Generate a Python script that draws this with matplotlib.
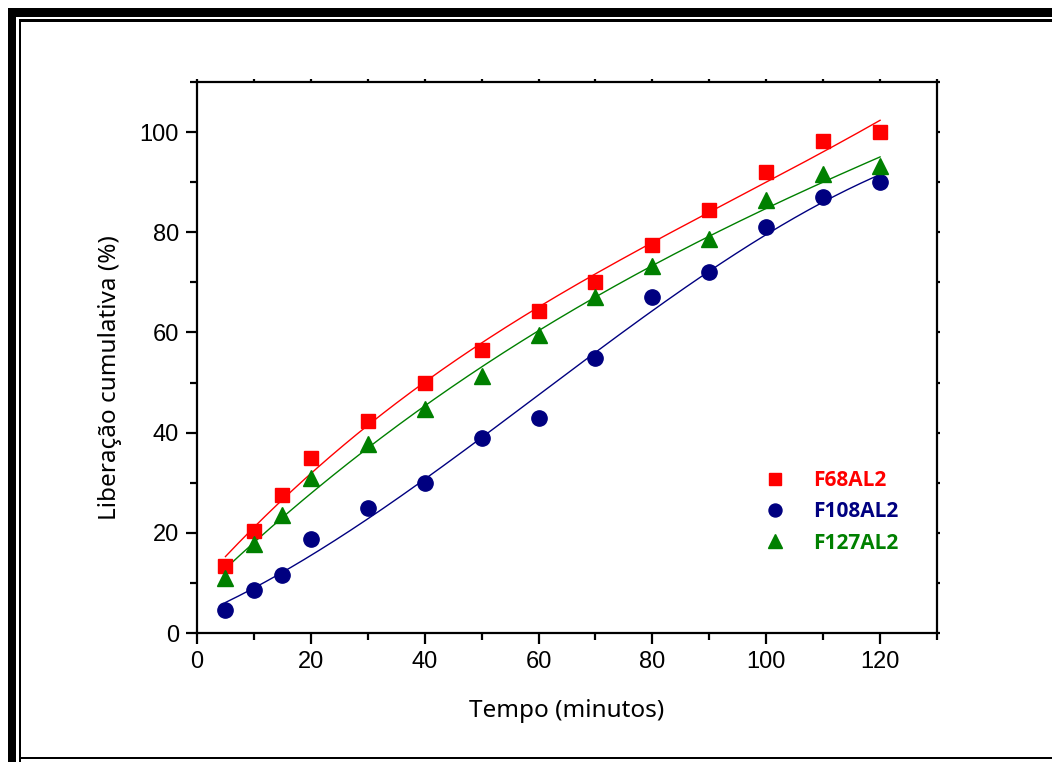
import numpy as np
import matplotlib
matplotlib.use("Agg")
import matplotlib.pyplot as plt
from matplotlib.patches import Rectangle
from matplotlib.ticker import MultipleLocator

plt.rcParams["font.family"] = ["Liberation Sans", "DejaVu Sans"]

# Release time points (minutes)
tempo = [5, 10, 15, 20, 30, 40, 50, 60, 70, 80, 90, 100, 110, 120]

# Cumulative release (%) per formulation
f68al2 = [13.4, 20.3, 27.5, 35.0, 42.3, 50.0, 56.5, 64.2, 70.0, 77.5, 84.5, 92.0, 98.2, 100.0]
f108al2 = [4.5, 8.6, 11.5, 18.8, 25.0, 30.0, 39.0, 43.0, 55.0, 67.0, 72.0, 81.0, 87.0, 90.0]
f127al2 = [11.0, 17.8, 23.5, 31.0, 37.8, 44.7, 51.3, 59.5, 67.0, 73.3, 78.7, 86.5, 91.6, 93.3]

labels = ["F68AL2", "F108AL2", "F127AL2"]
colors = ["#FF0000", "#000080", "#008000"]
markers = ["s", "o", "^"]
marker_sizes = [10, 11, 12]

W, H = 1052, 762
fig = plt.figure(figsize=(W / 100, H / 100), dpi=100)

# Decorative page frame: thick outer bar plus thin inner rule
def px_rect(x0, y0, x1, y1):
    fig.patches.append(Rectangle((x0 / W, 1 - y1 / H), (x1 - x0) / W, (y1 - y0) / H,
                                 transform=fig.transFigure, facecolor="black",
                                 edgecolor="none", zorder=0))

px_rect(7.5, 8.5, W, 16.5)      # top thick
px_rect(7.5, 8.5, 15.5, H)      # left thick
px_rect(18.5, 19.5, W, 22)      # top thin
px_rect(18.5, 19.5, 21, H)      # left thin
px_rect(18.5, 756.5, W, 759)    # bottom thin

ax = fig.add_axes([197 / W, 1 - 633 / H, (937 - 197) / W, (633 - 82) / H])

xs = np.array(tempo, dtype=float)
xfit = np.linspace(5, 120, 300)
series = [f68al2, f108al2, f127al2]
for y, lab, c, m, ms in zip(series, labels, colors, markers, marker_sizes):
    coef = np.polyfit(xs, np.array(y), 3)
    ax.plot(xfit, np.polyval(coef, xfit), color=c, lw=1.0, zorder=2)
    ax.plot(xs, y, linestyle="none", marker=m, markersize=ms, color=c,
            markeredgecolor=c, label=lab, zorder=3)

ax.set_xlim(0, 130)
ax.set_ylim(0, 110)
ax.xaxis.set_major_locator(MultipleLocator(20))
ax.xaxis.set_minor_locator(MultipleLocator(10))
ax.yaxis.set_major_locator(MultipleLocator(20))
ax.yaxis.set_minor_locator(MultipleLocator(10))

for s in ax.spines.values():
    s.set_linewidth(1.6)

ax.tick_params(which="major", direction="out", length=8, width=1.6,
               labelsize=17, pad=5)
ax.tick_params(which="minor", direction="out", length=5, width=1.6)
ax.tick_params(which="both", top=True, right=True)
for t in ax.xaxis.get_major_ticks() + ax.xaxis.get_minor_ticks():
    t.tick2line.set_markersize(2.5)
for t in ax.yaxis.get_major_ticks() + ax.yaxis.get_minor_ticks():
    t.tick2line.set_markersize(2.5)

ax.set_xlabel("Tempo (minutos)", fontsize=17.5, fontfamily="Noto Sans", labelpad=19)
ax.set_ylabel("Liberação cumulativa (%)", fontsize=17.5, fontfamily="Noto Sans")
ax.yaxis.set_label_coords(-0.101, 0.463)

leg = ax.legend(loc="upper left", bbox_to_anchor=(0.742, 0.33), frameon=False,
                handlelength=1.0, handletextpad=1.3, labelspacing=0.5,
                prop={"family": "Open Sans", "weight": "bold", "size": 15},
                markerscale=0.85)
for txt, c in zip(leg.get_texts(), colors):
    txt.set_color(c)

fig.savefig("out.png", dpi=100)
